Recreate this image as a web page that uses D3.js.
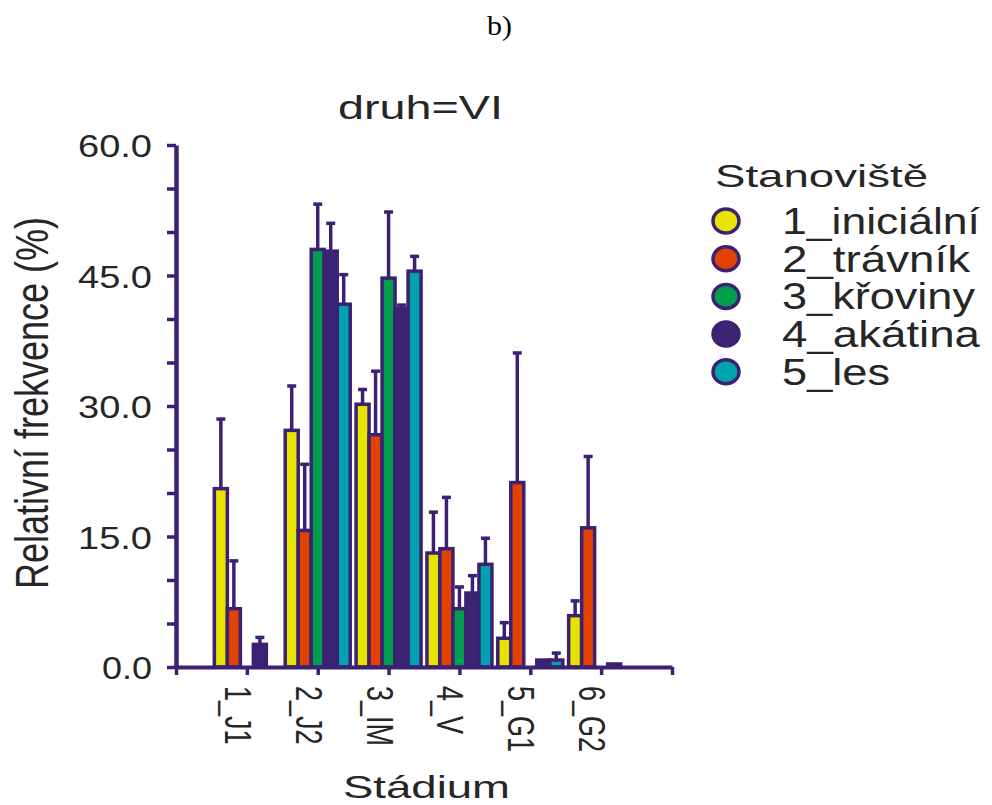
<!DOCTYPE html>
<html>
<head>
<meta charset="utf-8">
<script src="https://cdn.jsdelivr.net/npm/d3@7"></script>
<style>
  body { margin: 0; background: #fff; }
  text { font-family: "Liberation Sans", Arial, sans-serif; fill: #262626; }
</style>
</head>
<body>
<svg id="chart" width="992" height="805"></svg>
<script>
// stages on the x axis
const stages = ["1_J1", "2_J2", "3_IM", "4_V", "5_G1", "6_G2"];
const habitats = ["1_iniciální", "2_trávník", "3_křoviny", "4_akátina", "5_les"];
const yTicks = [0, 15, 30, 45, 60];

// mean relative frequency (%) per habitat, one value per stage
const inicialni = [20.5, 27.2, 30.2, 13.1, 3.3, 5.9];
const travnik = [6.7, 15.7, 26.7, 13.6, 21.2, 16.0];
const kroviny = [0, 48.0, 44.7, 6.7, 0, 0];
const akatina = [2.6, 47.8, 41.2, 8.5, 0.8, 0.35];
const les = [0, 41.7, 45.5, 11.8, 0.8, 0];

// upper error (SE) per habitat
const inicialniSE = [8.0, 5.1, 1.7, 4.7, 1.8, 1.7];
const travnikSE = [5.5, 7.6, 7.3, 5.9, 14.9, 8.2];
const krovinySE = [0, 5.2, 7.6, 2.5, 0, 0];
const akatinaSE = [0.8, 3.2, 0.4, 2.0, 0, 0];
const lesSE = [0, 3.4, 1.7, 3.0, 0.8, 0];

const means = [inicialni, travnik, kroviny, akatina, les];
const errs = [inicialniSE, travnikSE, krovinySE, akatinaSE, lesSE];
const colors = ["#e6e400", "#e24200", "#009e4e", "#3b2473", "#00a2ad"];
const ink = "#3c2172";

const svg = d3.select("#chart");
svg.append("rect").attr("width", 992).attr("height", 805).attr("fill", "#fff");

const x = d3.scaleLinear().domain([0, 7]).range([176, 672]);
const y = d3.scaleLinear().domain([0, 60]).range([667, 145]);
const bw = 13;

function fit(sel, w) {
  sel.attr("textLength", w).attr("lengthAdjust", "spacingAndGlyphs");
}

// headings
svg.append("text").attr("x", 487).attr("y", 35)
  .style("font-family", "'Liberation Serif', serif").style("font-size", "28px").style("fill", "#000")
  .text("b)").call(fit, 25);
svg.append("text").attr("x", 338).attr("y", 119).style("font-size", "33px")
  .text("druh=VI").call(fit, 165);

// bars + error bars
const g = svg.append("g");
means.forEach((vals, j) => {
  vals.forEach((v, i) => {
    if (v <= 0) return;
    const cx = x(i + 1) + (j - 2) * bw;
    const se = errs[j][i];
    if (se > 0) {
      g.append("line").attr("x1", cx).attr("x2", cx).attr("y1", y(v)).attr("y2", y(v + se))
        .attr("stroke", ink).attr("stroke-width", 3.5);
      g.append("line").attr("x1", cx - 4.5).attr("x2", cx + 4.5).attr("y1", y(v + se)).attr("y2", y(v + se))
        .attr("stroke", ink).attr("stroke-width", 3.5);
    }
    g.append("rect").attr("x", cx - bw / 2).attr("width", bw)
      .attr("y", y(v)).attr("height", y(0) - y(v))
      .attr("fill", colors[j]).attr("stroke", ink).attr("stroke-width", 3.5);
  });
});

// y axis
const ya = svg.append("g").attr("transform", "translate(176,0)")
  .call(d3.axisLeft(y).tickValues(d3.range(0, 61, 5)).tickSize(9).tickSizeOuter(0).tickPadding(15)
    .tickFormat(d => yTicks.includes(d) ? d3.format(".1f")(d) : ""));
ya.select(".domain").attr("stroke", ink).attr("stroke-width", 4.5);
ya.selectAll(".tick line").attr("stroke", ink).attr("stroke-width", 3.5);
ya.selectAll(".tick text").style("font-size", "32px").attr("dy", "0.36em").style("font-family", null)
  .each(function (d) { if (yTicks.includes(d)) d3.select(this).call(fit, d >= 10 ? 74 : 50); });

// x axis
const xa = svg.append("g").attr("transform", "translate(0,667)")
  .call(d3.axisBottom(x).tickValues(d3.range(0, 8)).tickSize(8).tickSizeOuter(0).tickFormat(""));
xa.select(".domain").attr("stroke", ink).attr("stroke-width", 4);
xa.selectAll(".tick line").attr("stroke", ink).attr("stroke-width", 3.5);

stages.forEach((s, i) => {
  svg.append("text")
    .attr("transform", `translate(${x(i + 1) - 22},686) scale(1.4,1) rotate(90)`)
    .style("font-size", "27px").text(s);
});

// axis titles
svg.append("text").attr("transform", "translate(48,403) scale(1.3,1) rotate(-90)")
  .attr("text-anchor", "middle").style("font-size", "36px").text("Relativní frekvence (%)");
svg.append("text").attr("x", 343).attr("y", 798).style("font-size", "32px")
  .text("Stádium").call(fit, 167);

// legend
const lg = svg.append("g");
lg.append("text").attr("x", 715).attr("y", 187).style("font-size", "32px")
  .text("Stanoviště").call(fit, 213);
const itemW = [198, 188, 193, 198, 108];
habitats.forEach((h, j) => {
  const by = 234 + j * 37.7;
  lg.append("ellipse").attr("cx", 726).attr("cy", by - 13).attr("rx", 13).attr("ry", 12)
    .attr("fill", colors[j]).attr("stroke", ink).attr("stroke-width", 3.5);
  lg.append("text").attr("x", 782).attr("y", by).style("font-size", "36px")
    .text(h).call(fit, itemW[j]);
});
</script>
</body>
</html>
